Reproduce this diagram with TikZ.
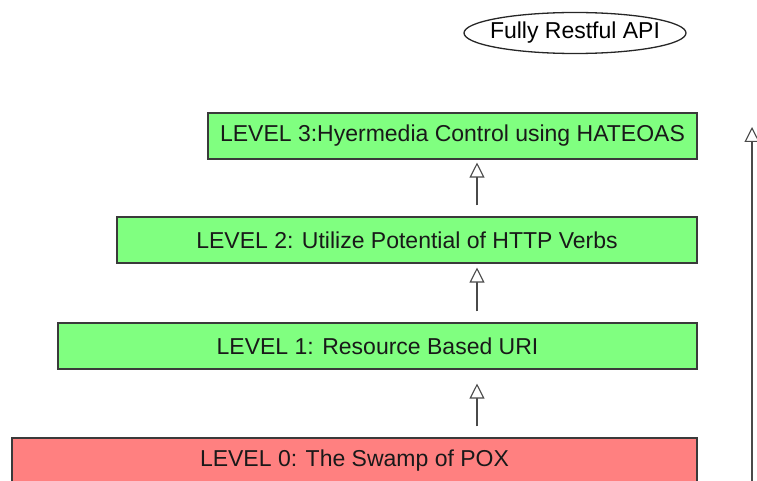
\documentclass[tikz,border=0pt]{standalone}
\usepackage{fontspec}
\setmainfont{Liberation Sans}
\usetikzlibrary{arrows.meta,shapes.geometric}
\definecolor{boxgreen}{HTML}{80FF80}
\definecolor{boxred}{HTML}{FF8080}
\definecolor{edgegray}{HTML}{3A3A3A}
\definecolor{linegray}{HTML}{4A4A4A}
\tikzset{
  levelbox/.style={draw=edgegray, line width=1.1pt, rectangle, inner sep=0pt,
    minimum height=46pt, font=\fontsize{23}{27}\selectfont, text=black!90},
  conn/.style={draw=linegray, line width=1.1pt,
    -{Triangle[open, length=15pt, width=15pt, fill=white]}},
}
\begin{document}
\begin{tikzpicture}[x=1pt, y=-1pt]
\useasboundingbox (0,0) rectangle (757,481);
\clip (0,0) rectangle (757,481);
\node[ellipse, draw=black!85, line width=1.3pt, inner xsep=-7pt, inner ysep=0pt,
  minimum width=222pt, minimum height=41pt,
  font=\fontsize{23}{27}\selectfont] (api) at (575,33) {Fully Restful API};
\node[levelbox, fill=boxgreen, minimum width=489pt] (L3) at (452.5,136) {LEVEL 3:Hyermedia Control using HATEOAS};
\node[levelbox, fill=boxgreen, minimum width=580pt] (L2) at (407,240) {LEVEL 2: Utilize Potential of HTTP Verbs};
\node[levelbox, fill=boxgreen, minimum width=639pt] (L1) at (377.5,346) {LEVEL 1: Resource Based URI};
\node[levelbox, fill=boxred, minimum width=685pt] (L0) at (354.5,461) {LEVEL 0: The Swamp of POX};
\draw[conn, shorten <=11pt, shorten >=14pt] (L0.north -| 477,0) -- (L1.south -| 477,0);
\draw[conn, shorten <=11pt, shorten >=4pt] (L1.north -| 477,0) -- (L2.south -| 477,0);
\draw[conn, shorten <=11pt, shorten >=3pt] (L2.north -| 477,0) -- (L3.south -| 477,0);
\coordinate (rbot) at (752,495);
\coordinate (rtop) at (752,127);
\draw[conn] (rbot) -- (rtop);
\end{tikzpicture}
\end{document}
